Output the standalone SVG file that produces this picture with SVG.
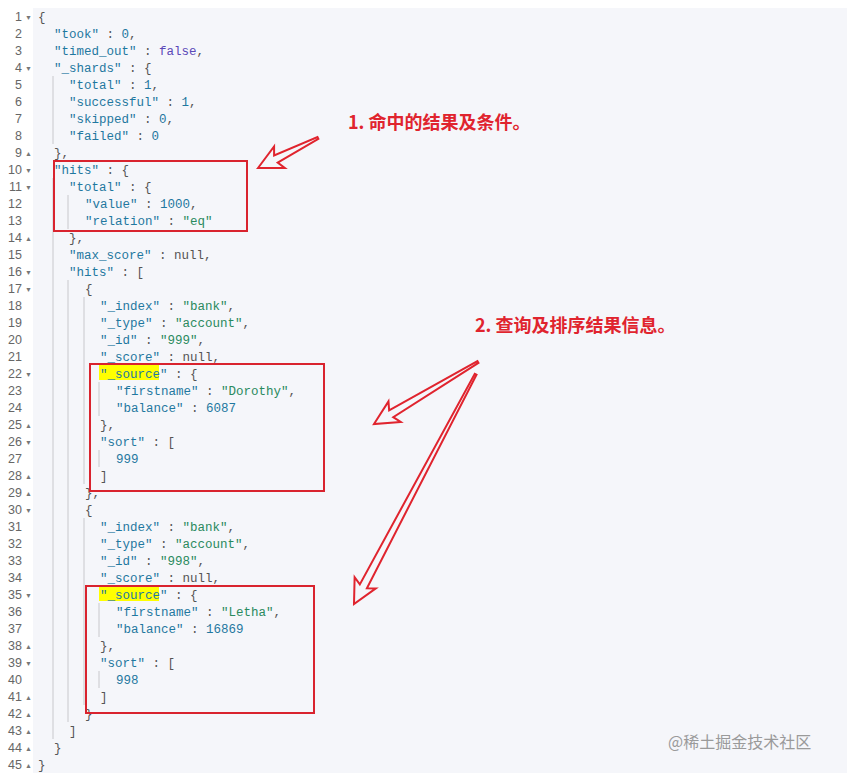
<svg xmlns="http://www.w3.org/2000/svg" width="847" height="773" viewBox="0 0 847 773">
<style>
.c{font-family:"Liberation Mono","DejaVu Sans Mono",monospace;font-size:12.5px;fill:#555;white-space:pre}
.n{font-family:"Liberation Sans",sans-serif;font-size:12.5px;fill:#666;text-anchor:end}
.k{fill:#1f78a0}.s{fill:#2a8a5e}.v{fill:#1f78a0}.b{fill:#5b49b8}
.g{stroke:#c8c8cc;stroke-width:1}
.box{fill:none;stroke:#d9232e;stroke-width:2}
.arr{fill:none;stroke:#e0242e;stroke-width:2;stroke-linejoin:miter}
.lbl{font-family:"Noto Sans CJK SC","Liberation Sans",sans-serif;font-size:18px;font-weight:bold;fill:#e0242e}
.f{fill:#777}
</style>
<rect width="847" height="773" fill="#ffffff"/>
<rect x="33" y="8" width="814" height="765" fill="#f5f6fa"/>
<g id="guides" class="g">
<line x1="53" y1="76" x2="53" y2="144"/>
<line x1="53" y1="178" x2="53" y2="739"/>
<line x1="68" y1="195" x2="68" y2="229"/>
<line x1="68" y1="280" x2="68" y2="722"/>
<line x1="84" y1="297" x2="84" y2="484"/>
<line x1="84" y1="518" x2="84" y2="705"/>
<line x1="99" y1="382" x2="99" y2="416"/>
<line x1="99" y1="450" x2="99" y2="467"/>
<line x1="99" y1="603" x2="99" y2="637"/>
<line x1="99" y1="671" x2="99" y2="688"/>
</g>
<g id="highlights">
<rect x="99" y="365" width="60" height="15" fill="#ffff00"/>
<rect x="99" y="586" width="60" height="15" fill="#ffff00"/>
</g>
<g id="linenums">
<text class="n" x="22" y="21">1</text><text class="n" x="22" y="38">2</text><text class="n" x="22" y="55">3</text><text class="n" x="22" y="72">4</text><text class="n" x="22" y="89">5</text><text class="n" x="22" y="106">6</text><text class="n" x="22" y="123">7</text><text class="n" x="22" y="140">8</text><text class="n" x="22" y="157">9</text><text class="n" x="22" y="174">10</text><text class="n" x="22" y="191">11</text><text class="n" x="22" y="208">12</text><text class="n" x="22" y="225">13</text><text class="n" x="22" y="242">14</text><text class="n" x="22" y="259">15</text><text class="n" x="22" y="276">16</text><text class="n" x="22" y="293">17</text><text class="n" x="22" y="310">18</text><text class="n" x="22" y="327">19</text><text class="n" x="22" y="344">20</text><text class="n" x="22" y="361">21</text><text class="n" x="22" y="378">22</text><text class="n" x="22" y="395">23</text><text class="n" x="22" y="412">24</text><text class="n" x="22" y="429">25</text><text class="n" x="22" y="446">26</text><text class="n" x="22" y="463">27</text><text class="n" x="22" y="480">28</text><text class="n" x="22" y="497">29</text><text class="n" x="22" y="514">30</text><text class="n" x="22" y="531">31</text><text class="n" x="22" y="548">32</text><text class="n" x="22" y="565">33</text><text class="n" x="22" y="582">34</text><text class="n" x="22" y="599">35</text><text class="n" x="22" y="616">36</text><text class="n" x="22" y="633">37</text><text class="n" x="22" y="650">38</text><text class="n" x="22" y="667">39</text><text class="n" x="22" y="684">40</text><text class="n" x="22" y="701">41</text><text class="n" x="22" y="718">42</text><text class="n" x="22" y="735">43</text><text class="n" x="22" y="752">44</text><text class="n" x="22" y="769">45</text>
</g>
<g id="folds" class="f" font-family="Liberation Sans,sans-serif" font-size="7">
<text x="25" y="20">▼</text><text x="25" y="71">▼</text><text x="25" y="156">▲</text><text x="25" y="173">▼</text><text x="25" y="190">▼</text><text x="25" y="241">▲</text><text x="25" y="275">▼</text><text x="25" y="292">▼</text><text x="25" y="377">▼</text><text x="25" y="428">▲</text><text x="25" y="445">▼</text><text x="25" y="479">▲</text><text x="25" y="496">▲</text><text x="25" y="513">▼</text><text x="25" y="598">▼</text><text x="25" y="649">▲</text><text x="25" y="666">▼</text><text x="25" y="700">▲</text><text x="25" y="717">▲</text><text x="25" y="734">▲</text><text x="25" y="751">▲</text><text x="25" y="768">▲</text>
</g>
<g id="code" class="c">
<text x="38" y="21">{</text>
<text x="54" y="38"><tspan class="k">"took"</tspan> : <tspan class="v">0</tspan>,</text>
<text x="54" y="55"><tspan class="k">"timed_out"</tspan> : <tspan class="b">false</tspan>,</text>
<text x="54" y="72"><tspan class="k">"_shards"</tspan> : {</text>
<text x="69" y="89"><tspan class="k">"total"</tspan> : <tspan class="v">1</tspan>,</text>
<text x="69" y="106"><tspan class="k">"successful"</tspan> : <tspan class="v">1</tspan>,</text>
<text x="69" y="123"><tspan class="k">"skipped"</tspan> : <tspan class="v">0</tspan>,</text>
<text x="69" y="140"><tspan class="k">"failed"</tspan> : <tspan class="v">0</tspan></text>
<text x="54" y="157">},</text>
<text x="54" y="174"><tspan class="k">"hits"</tspan> : {</text>
<text x="69" y="191"><tspan class="k">"total"</tspan> : {</text>
<text x="85" y="208"><tspan class="k">"value"</tspan> : <tspan class="v">1000</tspan>,</text>
<text x="85" y="225"><tspan class="k">"relation"</tspan> : <tspan class="s">"eq"</tspan></text>
<text x="69" y="242">},</text>
<text x="69" y="259"><tspan class="k">"max_score"</tspan> : null,</text>
<text x="69" y="276"><tspan class="k">"hits"</tspan> : [</text>
<text x="85" y="293">{</text>
<text x="100" y="310"><tspan class="k">"_index"</tspan> : <tspan class="s">"bank"</tspan>,</text>
<text x="100" y="327"><tspan class="k">"_type"</tspan> : <tspan class="s">"account"</tspan>,</text>
<text x="100" y="344"><tspan class="k">"_id"</tspan> : <tspan class="s">"999"</tspan>,</text>
<text x="100" y="361"><tspan class="k">"_score"</tspan> : null,</text>
<text x="100" y="378"><tspan class="k">"_source"</tspan> : {</text>
<text x="116" y="395"><tspan class="k">"firstname"</tspan> : <tspan class="s">"Dorothy"</tspan>,</text>
<text x="116" y="412"><tspan class="k">"balance"</tspan> : <tspan class="v">6087</tspan></text>
<text x="100" y="429">},</text>
<text x="100" y="446"><tspan class="k">"sort"</tspan> : [</text>
<text x="116" y="463"><tspan class="v">999</tspan></text>
<text x="100" y="480">]</text>
<text x="85" y="497">},</text>
<text x="85" y="514">{</text>
<text x="100" y="531"><tspan class="k">"_index"</tspan> : <tspan class="s">"bank"</tspan>,</text>
<text x="100" y="548"><tspan class="k">"_type"</tspan> : <tspan class="s">"account"</tspan>,</text>
<text x="100" y="565"><tspan class="k">"_id"</tspan> : <tspan class="s">"998"</tspan>,</text>
<text x="100" y="582"><tspan class="k">"_score"</tspan> : null,</text>
<text x="100" y="599"><tspan class="k">"_source"</tspan> : {</text>
<text x="116" y="616"><tspan class="k">"firstname"</tspan> : <tspan class="s">"Letha"</tspan>,</text>
<text x="116" y="633"><tspan class="k">"balance"</tspan> : <tspan class="v">16869</tspan></text>
<text x="100" y="650">},</text>
<text x="100" y="667"><tspan class="k">"sort"</tspan> : [</text>
<text x="116" y="684"><tspan class="v">998</tspan></text>
<text x="100" y="701">]</text>
<text x="85" y="718">}</text>
<text x="69" y="735">]</text>
<text x="54" y="752">}</text>
<text x="38" y="769">}</text>
</g>
<g id="boxes">
<rect class="box" x="54" y="161" width="193" height="70"/>
<rect class="box" x="90" y="364" width="234" height="127"/>
<rect class="box" x="86" y="586" width="228" height="127"/>
</g>
<g id="connectors">
<polygon class="arr" transform="translate(258,168) rotate(-26.6)" points="0,0 24,-12 20,-4 67,-1 67,1 20,4 24,12"/>
<polygon class="arr" transform="translate(374,424) rotate(-30.8)" points="0,0 24,-12 20,-4 121,-1 121,1 20,4 24,12"/>
<polygon class="arr" transform="translate(354,604) rotate(-62.1)" points="0,0 24,-12 20,-4 260,-1 260,1 20,4 24,12"/>
</g>
<g id="labels">
<text class="lbl" x="348" y="129">1. 命中的结果及条件。</text>
<text class="lbl" x="475" y="332">2. 查询及排序结果信息。</text>
<text x="668" y="748" font-family="Noto Sans CJK SC,Liberation Sans,sans-serif" font-size="16" fill="#9a9a9a">@稀土掘金技术社区</text>
</g>
</svg>
